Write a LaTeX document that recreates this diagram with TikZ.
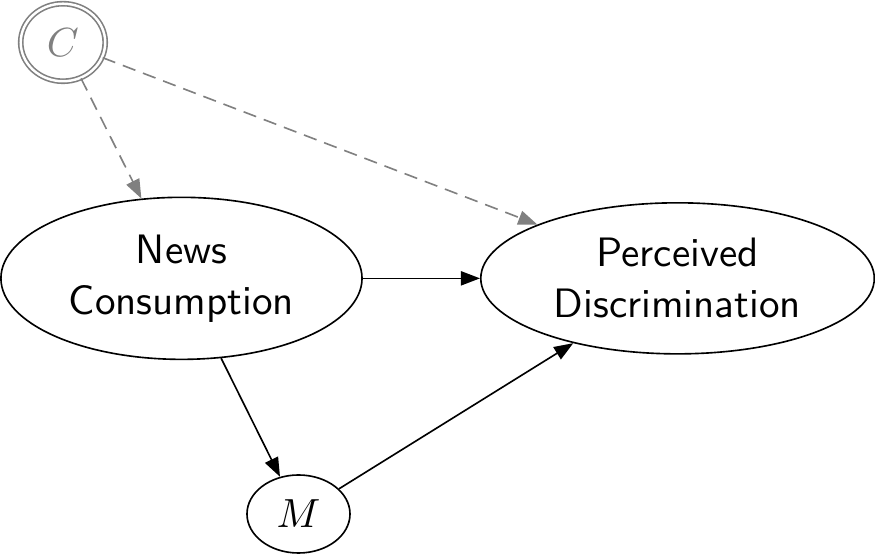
\documentclass[tikz,border=0pt]{standalone}
\usetikzlibrary{shapes.geometric,arrows.meta}
\begin{document}
\begin{tikzpicture}[
  var/.style={draw,ellipse,inner sep=0pt,align=center,font=\sffamily\fontsize{10.1pt}{12.5pt}\selectfont},
  latent/.style={draw=gray,text=gray,ellipse,double,inner sep=0pt,minimum width=0.73cm,minimum height=0.67cm},
  effect/.style={-{Triangle[length=4.7pt,width=3.5pt]}},
  confounder/.style={effect,gray,dash pattern=on 3.3pt off 2pt}
]
\useasboundingbox (0,0) rectangle (7.56,4.795);

\node[latent] (c) at (0.544,4.428) {$C$};
\node[var,minimum width=3.12cm,minimum height=1.40cm] (news) at (1.568,2.39) {News\\Consumption};
\node[var,minimum width=3.40cm,minimum height=1.305cm] (disc) at (5.854,2.39) {Perceived\\Discrimination};
\node[var,minimum width=0.89cm,minimum height=0.674cm] (m) at (2.579,0.354) {$M$};

\draw[confounder] (c) -- (news);
\draw[confounder] (c) -- (disc);

\draw[effect] (news) -- (disc);
\draw[effect] (news) -- (m);
\draw[effect] (m) -- (disc);
\end{tikzpicture}
\end{document}
